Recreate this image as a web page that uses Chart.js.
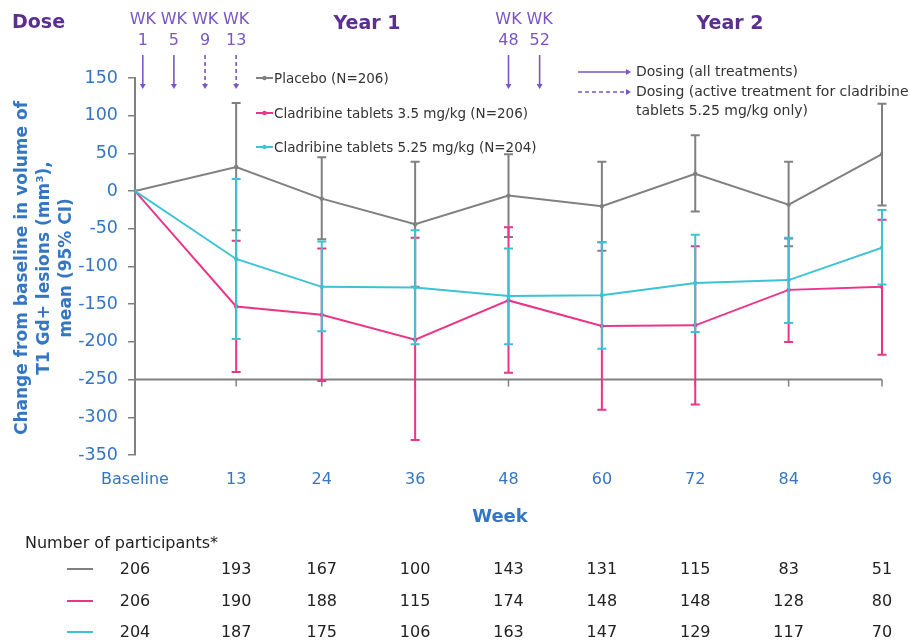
<!DOCTYPE html>
<html>
<head>
<meta charset="utf-8">
<script src="https://cdn.jsdelivr.net/npm/chart.js@4.4.1/dist/chart.umd.min.js"></script>
<style>
  html, body { margin: 0; padding: 0; background: #fff; }
  #wrap { position: relative; width: 911px; height: 640px; }
</style>
</head>
<body>
<div id="wrap"><canvas id="c" width="911" height="640"></canvas></div>
<script>
// Study weeks on the x axis (0 = baseline)
const weeks = [0, 13, 24, 36, 48, 60, 72, 84, 96];

// Mean change from baseline in T1 Gd+ lesion volume (mm3) with 95% CI
const placeboMean = [0, 32, -10, -44, -6, -20, 23, -18, 49];
const placeboLow  = [0, -52, -64, -127, -61, -79, -27, -73, -19];
const placeboHigh = [0, 117, 45, 39, 49, 39, 74, 39, 116];

const clad35Mean = [0, -153, -164, -197, -145, -179, -178, -131, -127];
const clad35Low  = [0, -240, -252, -330, -241, -290, -283, -200, -217];
const clad35High = [0, -66, -76, -62, -48, -68, -73, -63, -38];

const clad525Mean = [0, -90, -127, -128, -139, -138, -122, -118, -75];
const clad525Low  = [0, -196, -186, -203, -203, -209, -187, -175, -124];
const clad525High = [0, 16, -67, -52, -76, -68, -58, -62, -25];

// Number of participants at each visit
const placeboN = [206, 193, 167, 100, 143, 131, 115, 83, 51];
const clad35N  = [206, 190, 188, 115, 174, 148, 148, 128, 80];
const clad525N = [204, 187, 175, 106, 163, 147, 129, 117, 70];

// Dosing weeks
const dosingAll = [1, 5, 48, 52];
const dosingHighOnly = [9, 13];

const yTicks = [150, 100, 50, 0, -50, -100, -150, -200, -250, -300, -350];

const GRAY = '#808080';
const PINK = '#ea3589';
const CYAN = '#3dc2d6';
const BLUE = '#3476c2';
const PURPLE = '#7a55c3';
const PURPLE_DARK = '#5b2e90';
const TEXT = '#333333';
const SANS = "'DejaVu Sans', Verdana, sans-serif";

function pts(mean) { return weeks.map((w, i) => ({ x: w, y: mean[i] })); }

const datasets = [
  { label: 'Placebo (N=206)', data: pts(placeboMean), lo: placeboLow, hi: placeboHigh,
    borderColor: GRAY, backgroundColor: GRAY, order: 3, counts: placeboN },
  { label: 'Cladribine tablets 3.5 mg/kg (N=206)', data: pts(clad35Mean), lo: clad35Low, hi: clad35High,
    borderColor: PINK, backgroundColor: PINK, order: 2, counts: clad35N },
  { label: 'Cladribine tablets 5.25 mg/kg (N=204)', data: pts(clad525Mean), lo: clad525Low, hi: clad525High,
    borderColor: CYAN, backgroundColor: CYAN, order: 1, counts: clad525N }
].map(d => Object.assign({ borderWidth: 2, pointRadius: 2.2, pointBorderWidth: 0, tension: 0 }, d));

function arrowDown(ctx, x, y0, y1, color, dashed) {
  ctx.save();
  ctx.strokeStyle = color; ctx.fillStyle = color; ctx.lineWidth = 1.6;
  ctx.setLineDash(dashed ? [4, 3] : []);
  ctx.beginPath(); ctx.moveTo(x, y0); ctx.lineTo(x, y1 - 4); ctx.stroke();
  ctx.setLineDash([]);
  ctx.beginPath(); ctx.moveTo(x - 3, y1 - 5); ctx.lineTo(x + 3, y1 - 5); ctx.lineTo(x, y1); ctx.closePath(); ctx.fill();
  ctx.restore();
}
function arrowRight(ctx, x0, x1, y, color, dashed) {
  ctx.save();
  ctx.strokeStyle = color; ctx.fillStyle = color; ctx.lineWidth = 1.6;
  ctx.setLineDash(dashed ? [4, 3] : []);
  ctx.beginPath(); ctx.moveTo(x0, y); ctx.lineTo(x1 - 4, y); ctx.stroke();
  ctx.setLineDash([]);
  ctx.beginPath(); ctx.moveTo(x1 - 5, y - 3); ctx.lineTo(x1 - 5, y + 3); ctx.lineTo(x1, y); ctx.closePath(); ctx.fill();
  ctx.restore();
}

const decorations = {
  id: 'decorations',
  beforeDatasetsDraw(chart) {
    const { ctx } = chart;
    const xs = chart.scales.x, ys = chart.scales.y;
    // horizontal axis line at -250 with downward tick marks
    const yAxis = ys.getPixelForValue(-250);
    ctx.save();
    ctx.strokeStyle = GRAY; ctx.lineWidth = 2;
    ctx.beginPath(); ctx.moveTo(xs.left, yAxis); ctx.lineTo(xs.right, yAxis); ctx.stroke();
    ctx.lineWidth = 1.5;
    weeks.slice(1).forEach(w => {
      const x = xs.getPixelForValue(w);
      ctx.beginPath(); ctx.moveTo(x, yAxis); ctx.lineTo(x, yAxis + 7); ctx.stroke();
    });
    ctx.restore();
  },
  afterDatasetDraw(chart, args) {
    // 95% CI whiskers for the dataset just drawn
    const ds = chart.data.datasets[args.index];
    const { ctx } = chart;
    const xs = chart.scales.x, ys = chart.scales.y;
    ctx.save();
    ctx.strokeStyle = ds.borderColor; ctx.lineWidth = 2;
    weeks.forEach((w, i) => {
      if (ds.lo[i] === ds.hi[i]) return;
      const x = xs.getPixelForValue(w);
      const y0 = ys.getPixelForValue(ds.lo[i]), y1 = ys.getPixelForValue(ds.hi[i]);
      ctx.beginPath();
      ctx.moveTo(x, y0); ctx.lineTo(x, y1);
      ctx.moveTo(x - 4.5, y0); ctx.lineTo(x + 4.5, y0);
      ctx.moveTo(x - 4.5, y1); ctx.lineTo(x + 4.5, y1);
      ctx.stroke();
    });
    ctx.restore();
  },
  afterDraw(chart) {
    const { ctx } = chart;
    const xs = chart.scales.x;
    ctx.save();

    // in-plot legend
    const legendY = [78, 113, 147];
    chart.data.datasets.forEach((ds, i) => {
      const y = legendY[i];
      ctx.strokeStyle = ds.borderColor; ctx.fillStyle = ds.borderColor; ctx.lineWidth = 2;
      ctx.beginPath(); ctx.moveTo(256, y); ctx.lineTo(273, y); ctx.stroke();
      ctx.beginPath(); ctx.arc(264.5, y, 2.2, 0, Math.PI * 2); ctx.fill();
      ctx.fillStyle = TEXT; ctx.font = `13.5px ${SANS}`;
      ctx.textAlign = 'left'; ctx.textBaseline = 'middle';
      ctx.fillText(ds.label, 274, y + 1);
    });

    // dosing header
    ctx.fillStyle = PURPLE_DARK; ctx.font = `bold 19px ${SANS}`;
    ctx.textAlign = 'left'; ctx.textBaseline = 'middle';
    ctx.fillText('Dose', 12, 23);
    ctx.textAlign = 'center';
    ctx.fillText('Year 1', 367, 24);
    ctx.fillText('Year 2', 730, 24);

    const doses = dosingAll.map(w => [w, false]).concat(dosingHighOnly.map(w => [w, true]));
    doses.forEach(([w, dashed]) => {
      const x = xs.getPixelForValue(w);
      ctx.fillStyle = PURPLE; ctx.font = `16px ${SANS}`;
      ctx.textAlign = 'center'; ctx.textBaseline = 'middle';
      ctx.fillText('WK', x, 20);
      ctx.fillText(String(w), x, 41);
      arrowDown(ctx, x, 55, 89, PURPLE, dashed);
    });

    // dosing key
    arrowRight(ctx, 578, 631, 72, PURPLE, false);
    arrowRight(ctx, 578, 631, 92, PURPLE, true);
    ctx.fillStyle = TEXT; ctx.font = `14px ${SANS}`;
    ctx.textAlign = 'left'; ctx.textBaseline = 'middle';
    ctx.fillText('Dosing (all treatments)', 636, 72);
    ctx.fillText('Dosing (active treatment for cladribine', 636, 92);
    ctx.fillText('tablets 5.25 mg/kg only)', 636, 111);

    // y axis title
    ctx.save();
    ctx.translate(45, 268);
    ctx.rotate(-Math.PI / 2);
    ctx.fillStyle = BLUE; ctx.font = `bold 17px ${SANS}`;
    ctx.textAlign = 'center'; ctx.textBaseline = 'middle';
    ctx.fillText('Change from baseline in volume of', 0, -22);
    ctx.fillText('T1 Gd+ lesions (mm\u00B3),', 0, 0);
    ctx.fillText('mean (95% CI)', 0, 22);
    ctx.restore();

    // x axis title
    ctx.fillStyle = BLUE; ctx.font = `bold 18px ${SANS}`;
    ctx.textAlign = 'center'; ctx.textBaseline = 'middle';
    ctx.fillText('Week', 500, 517);

    // participants table
    ctx.fillStyle = '#222'; ctx.font = `16px ${SANS}`;
    ctx.textAlign = 'left';
    ctx.fillText('Number of participants*', 25, 544);
    const rowY = [569, 601, 632];
    chart.data.datasets.forEach((ds, r) => {
      const y = rowY[r];
      ctx.strokeStyle = ds.borderColor; ctx.lineWidth = 2;
      ctx.beginPath(); ctx.moveTo(67, y); ctx.lineTo(93, y); ctx.stroke();
      ctx.fillStyle = '#222'; ctx.textAlign = 'center';
      ds.counts.forEach((n, i) => ctx.fillText(String(n), xs.getPixelForValue(weeks[i]), y + 1));
    });
    ctx.restore();
  }
};

new Chart(document.getElementById('c'), {
  type: 'line',
  data: { datasets },
  options: {
    responsive: false,
    animation: false,
    layout: { padding: { left: 0, right: 29, top: 78, bottom: 0 } },
    plugins: { legend: { display: false }, tooltip: { enabled: false } },
    scales: {
      x: {
        type: 'linear', min: 0, max: 96,
        afterBuildTicks: s => { s.ticks = weeks.map(v => ({ value: v })); },
        afterFit: s => { s.height = 185; },
        ticks: {
          autoSkip: false, maxRotation: 0, padding: 15, color: BLUE,
          font: { family: SANS, size: 16 },
          callback: v => (v === 0 ? 'Baseline' : String(v))
        },
        grid: { display: false, drawTicks: false },
        border: { display: false }
      },
      y: {
        min: -350, max: 150,
        afterBuildTicks: s => { s.ticks = yTicks.map(v => ({ value: v })); },
        afterFit: s => { s.width = 135; },
        ticks: { padding: 10, color: BLUE, font: { family: SANS, size: 17.5 } },
        grid: { drawOnChartArea: false, drawTicks: true, tickLength: 7, color: GRAY, lineWidth: 1.5 },
        border: { color: GRAY, width: 2 }
      }
    }
  },
  plugins: [decorations]
});
</script>
</body>
</html>
